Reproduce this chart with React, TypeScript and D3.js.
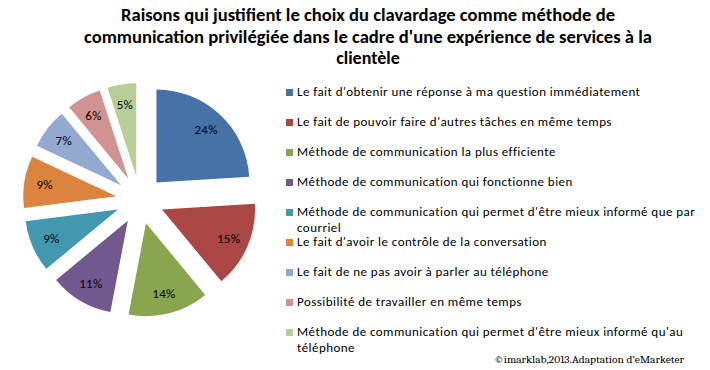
import { useMemo } from "react";
import * as d3 from "d3";

const titleLines = [
  "Raisons qui justifient le choix du clavardage comme méthode de",
  "communication privilégiée dans le cadre d'une expérience de services à la",
  "clientèle",
];

const categories = [
  "Le fait d'obtenir une réponse à ma question immédiatement",
  "Le fait de pouvoir faire d'autres tâches en même temps",
  "Méthode de communication la plus efficiente",
  "Méthode de communication qui fonctionne bien",
  "Méthode de communication qui permet d'être mieux informé que par\ncourriel",
  "Le fait d'avoir le contrôle de la conversation",
  "Le fait de ne pas avoir à parler au téléphone",
  "Possibilité de travailler en même temps",
  "Méthode de communication qui permet d'être mieux informé qu'au\ntéléphone",
];

const values = [24, 15, 14, 11, 9, 9, 7, 6, 5];

const colors = [
  "#4672A8",
  "#AA4643",
  "#89A54E",
  "#71588F",
  "#4198AF",
  "#DB843D",
  "#93A9CF",
  "#D19392",
  "#B9CD96",
];

const source = "©imarklab,2013.Adaptation d’eMarketer";

const W = 710;
const H = 370;
const cx = 140;
const cy = 200;
const radius = 93;
const explode = 24;
const font = "Carlito, Calibri, 'Liberation Sans', Arial, sans-serif";

export default function App() {
  const slices = useMemo(() => {
    const pie = d3
      .pie<number>()
      .sort(null)
      .value((d) => d);
    return pie(values);
  }, []);

  const arc = d3.arc<d3.PieArcDatum<number>>().innerRadius(0).outerRadius(radius);
  const labelArc = d3
    .arc<d3.PieArcDatum<number>>()
    .innerRadius(radius * 0.78)
    .outerRadius(radius * 0.78);

  const legendY = d3
    .scalePoint<number>()
    .domain(d3.range(categories.length))
    .range([96, 336]);

  // widths of the two long title lines
  const titleWidths = [494, 568, undefined];

  return (
    <svg
      width={W}
      height={H}
      style={{ position: "absolute", left: 0, top: 0, background: "#fff" }}
    >
      <rect width={W} height={H} fill="#fff" />
      {titleLines.map((t, i) => (
        <text
          key={i}
          x={368}
          y={21 + i * 21.5}
          textAnchor="middle"
          fontFamily={font}
          fontWeight="bold"
          fontSize={18}
          textLength={titleWidths[i]}
          lengthAdjust={titleWidths[i] ? "spacingAndGlyphs" : undefined}
          fill="#000"
        >
          {t}
        </text>
      ))}

      <g transform={`translate(${cx},${cy})`}>
        {slices.map((s, i) => {
          const mid = (s.startAngle + s.endAngle) / 2;
          const dx = Math.sin(mid) * explode;
          const dy = -Math.cos(mid) * explode;
          const [lx, ly] = labelArc.centroid(s);
          return (
            <g key={i} transform={`translate(${dx},${dy})`}>
              <path d={arc(s) ?? ""} fill={colors[i]} />
              <text
                x={lx}
                y={ly}
                textAnchor="middle"
                dominantBaseline="central"
                fontFamily={font}
                fontSize={13}
                letterSpacing={0.3}
                fill="#000"
              >
                {s.data}%
              </text>
            </g>
          );
        })}
      </g>

      <g>
        {categories.map((c, i) => {
          const y = legendY(i) ?? 0;
          return (
            <g key={i}>
              <rect x={286} y={y - 7} width={7} height={7} fill={colors[i]} />
              {c.split("\n").map((line, j) => (
                <text
                  key={j}
                  x={297}
                  y={y + j * 16}
                  fontFamily={font}
                  fontSize={13}
                  letterSpacing={0.45}
                  fill="#000"
                >
                  {line}
                </text>
              ))}
            </g>
          );
        })}
      </g>

      <text
        x={494}
        y={363}
        fontFamily="Caladea, Cambria, 'Liberation Serif', 'DejaVu Serif', serif"
        fontSize={11}
        textLength={190}
        lengthAdjust="spacingAndGlyphs"
        fill="#000"
      >
        {source}
      </text>
    </svg>
  );
}
